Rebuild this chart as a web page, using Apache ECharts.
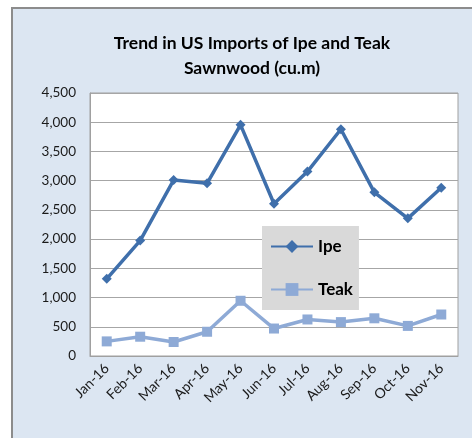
<!DOCTYPE html>
<html>
<head>
<meta charset="utf-8">
<script src="https://cdn.jsdelivr.net/npm/echarts@6/dist/echarts.min.js"></script>
<style>
  html, body { margin: 0; padding: 0; background: #ffffff; }
  #chart { width: 472px; height: 438px; }
</style>
</head>
<body>
<div id="chart"></div>
<script>
// Monthly US imports of sawnwood (cubic metres)
const months = ['Jan-16', 'Feb-16', 'Mar-16', 'Apr-16', 'May-16', 'Jun-16',
                'Jul-16', 'Aug-16', 'Sep-16', 'Oct-16', 'Nov-16'];
const ipe = [1320, 1975, 3010, 2955, 3955, 2605, 3155, 3880, 2800, 2355, 2880];
const teak = [250, 330, 240, 415, 945, 470, 625, 580, 645, 515, 710];
const yTicks = [0, 500, 1000, 1500, 2000, 2500, 3000, 3500, 4000, 4500];

const FONT = 'Lato, "Open Sans", sans-serif';
const chart = echarts.init(document.getElementById('chart'), null, { renderer: 'canvas' });

chart.setOption({
  backgroundColor: '#ffffff',
  animation: false,
  graphic: [{
    type: 'rect',
    z: -10,
    shape: { x: 12, y: 8, width: 470, height: 440 },
    style: { fill: '#dce6f2', stroke: '#8c8c8c', lineWidth: 2 }
  }],
  title: {
    text: 'Trend in US Imports of Ipe and Teak\nSawnwood (cu.m)',
    left: 247,
    top: 26,
    textAlign: 'center',
    textStyle: {
      fontFamily: FONT, fontSize: 17.5, fontWeight: 'bold', color: '#000000', lineHeight: 25
    }
  },
  legend: {
    orient: 'vertical',
    left: 262,
    top: 226,
    padding: [12, 6, 12, 8],
    itemWidth: 42,
    itemHeight: 16,
    itemGap: 26,
    backgroundColor: '#d9d9d9',
    textStyle: { fontFamily: FONT, fontSize: 17, fontWeight: 'bold', color: '#000000' },
    data: ['Ipe', 'Teak']
  },
  grid: {
    left: 90, top: 93, right: 14, bottom: 82,
    show: true, backgroundColor: '#ffffff', borderColor: '#a0a0a0', borderWidth: 1
  },
  xAxis: {
    type: 'category',
    data: months,
    boundaryGap: true,
    axisLine: { lineStyle: { color: '#a0a0a0' } },
    axisTick: { show: false },
    axisLabel: {
      rotate: 45, margin: 10, interval: 0,
      fontFamily: FONT, fontSize: 14, color: '#1a1a1a'
    }
  },
  yAxis: {
    type: 'value',
    min: yTicks[0],
    max: yTicks[yTicks.length - 1],
    interval: 500,
    axisLine: { show: true, lineStyle: { color: '#a0a0a0' } },
    axisTick: { show: false },
    splitLine: { lineStyle: { color: '#a6a6a6', width: 1 } },
    axisLabel: {
      margin: 14, fontFamily: FONT, fontSize: 13.5, color: '#1a1a1a',
      formatter: v => v.toLocaleString('en-US')
    }
  },
  series: [{
    name: 'Ipe',
    type: 'line',
    data: ipe,
    symbol: 'diamond',
    symbolSize: 10,
    lineStyle: { color: '#3f6fab', width: 3.5 },
    itemStyle: { color: '#3f6fab' }
  }, {
    name: 'Teak',
    type: 'line',
    data: teak,
    symbol: 'rect',
    symbolSize: 10,
    lineStyle: { color: '#8eaad6', width: 3.5 },
    itemStyle: { color: '#8eaad6' }
  }]
});
</script>
</body>
</html>
